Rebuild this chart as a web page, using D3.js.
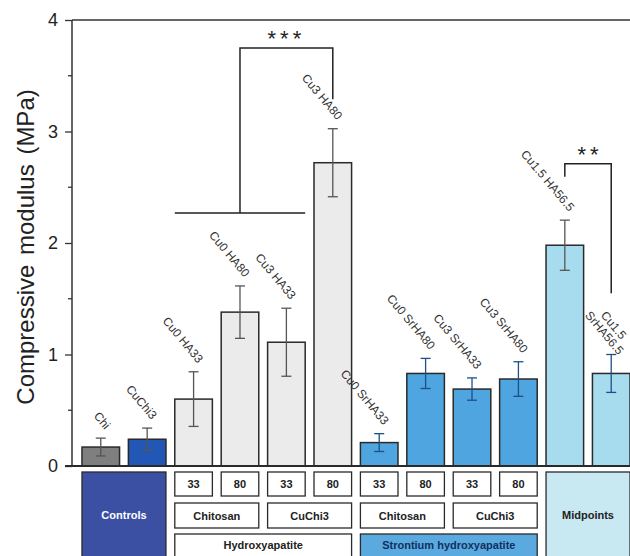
<!DOCTYPE html>
<html>
  <head>
    <meta charset="utf-8">
    <title>Compressive modulus</title>
    <script src="https://cdn.jsdelivr.net/npm/d3@7"></script>
    <style>
      body { margin: 0; background: #fff; }
      svg { display: block; font-family: Arial, "Liberation Sans", sans-serif; }
    </style>
  </head>
  <body>
    <svg id="chart" width="630" height="556"></svg>

    <script>
      // data
      samples = ["Chi", "CuChi3", "Cu0 HA33", "Cu0 HA80", "Cu3 HA33", "Cu3 HA80",
        "Cu0 SrHA33", "Cu0 SrHA80", "Cu3 SrHA33", "Cu3 SrHA80", "Cu1.5 HA56.5", "Cu1.5 SrHA56.5"];
      labels = [["Chi"], ["CuChi3"], ["Cu0 HA33"], ["Cu0 HA80"], ["Cu3 HA33"], ["Cu3 HA80"],
        ["Cu0 SrHA33"], ["Cu0 SrHA80"], ["Cu3 SrHA33"], ["Cu3 SrHA80"], ["Cu1.5 HA56.5"], ["Cu1.5", "SrHA56.5"]];
      modulus = [0.17, 0.24, 0.60, 1.38, 1.11, 2.72, 0.21, 0.83, 0.69, 0.78, 1.98, 0.83];
      errors = [0.08, 0.10, 0.245, 0.235, 0.305, 0.305, 0.08, 0.135, 0.10, 0.155, 0.225, 0.17];
      groups = ["ctrl", "ctrl", "ha", "ha", "ha", "ha", "sr", "sr", "sr", "sr", "mid", "mid"];
      fills = ["#7f7f7f", "#2257b5", "#ebebeb", "#ebebeb", "#ebebeb", "#ebebeb",
        "#4fa5df", "#4fa5df", "#4fa5df", "#4fa5df", "#a7dbee", "#a7dbee"];
      yTicks = [0, 1, 2, 3, 4];

      // bottom table
      ratioRow = [[2, "33"], [3, "80"], [4, "33"], [5, "80"], [6, "33"], [7, "80"], [8, "33"], [9, "80"]];
      baseRow = [[2, 3, "Chitosan"], [4, 5, "CuChi3"], [6, 7, "Chitosan"], [8, 9, "CuChi3"]];
      mineralRow = [[2, 5, "Hydroxyapatite", "#ffffff", "#222"], [6, 9, "Strontium hydroxyapatite", "#5aaadf", "#12305e"]];
      blocks = [[0, 1, "Controls", "#3c50a3", "#ffffff"], [10, 11, "Midpoints", "#c8e8f2", "#222"]];

      // significance brackets
      sig = [
        { from: 2, to: 4, split: 2.27, top: 3.75, end: 3.29, bar: 5, text: "***" },
        { start: 2.595, top: 2.71, end: 1.55, left: 10, right: 11, text: "**" }
      ];

      svg = d3.select("#chart");

      x = d3.scaleBand()
        .domain(samples)
        .range([72, 640])
        .paddingInner(0.19)
        .paddingOuter(0.215);

      y = d3.scaleLinear()
        .domain([0, 4])
        .range([466, 20]);

      cx = function(i) { return x(samples[i]) + x.bandwidth() / 2; };

      // frame
      svg.append("line")
        .attr("x1", 72).attr("x2", 630)
        .attr("y1", y(4)).attr("y2", y(4))
        .attr("stroke", "#333").attr("stroke-width", 1.5);

      // bars
      svg.selectAll(".bar")
        .data(samples)
      .enter().append("rect")
        .attr("x", function(d) { return x(d); })
        .attr("y", function(d, i) { return y(modulus[i]); })
        .attr("width", x.bandwidth())
        .attr("height", function(d, i) { return y(0) - y(modulus[i]); })
        .attr("fill", function(d, i) { return fills[i]; })
        .attr("stroke", "#2a2a2a")
        .attr("stroke-width", 1.5);

      // error bars
      errColour = function(i) {
        return groups[i] == "sr" || i == 11 ? "#1e4f86" : "#555";
      };
      err = svg.selectAll(".err")
        .data(samples)
      .enter().append("g")
        .attr("stroke", function(d, i) { return errColour(i); })
        .attr("stroke-width", 1.3);
      err.append("line")
        .attr("x1", function(d, i) { return cx(i); })
        .attr("x2", function(d, i) { return cx(i); })
        .attr("y1", function(d, i) { return y(modulus[i] + errors[i]); })
        .attr("y2", function(d, i) { return y(modulus[i] - errors[i]); });
      [1, -1].forEach(function(s) {
        err.append("line")
          .attr("x1", function(d, i) { return cx(i) - 5; })
          .attr("x2", function(d, i) { return cx(i) + 5; })
          .attr("y1", function(d, i) { return y(modulus[i] + s * errors[i]); })
          .attr("y2", function(d, i) { return y(modulus[i] + s * errors[i]); });
      });

      // sample labels (the two-line one is centred, the rest end above the error bar)
      lab = svg.selectAll(".lab")
        .data(labels)
      .enter().append("text")
        .attr("transform", function(d, i) {
          var top = y(modulus[i] + errors[i]);
          if (d.length > 1) return "translate(" + (cx(i) - 10) + "," + (top - 19) + ") rotate(50)";
          return "translate(" + (cx(i) + 4) + "," + (top - 8) + ") rotate(50)";
        })
        .attr("text-anchor", function(d) { return d.length > 1 ? "middle" : "end"; })
        .attr("font-size", 12)
        .attr("fill", "#333");
      lab.selectAll("tspan")
        .data(function(d) { return d; })
      .enter().append("tspan")
        .attr("x", 0)
        .attr("y", function(d, j, nodes) { return (j - nodes.length + 1) * 12; })
        .text(function(d) { return d; });

      // axes
      yAxis = svg.append("g")
        .attr("transform", "translate(72,0)")
        .call(d3.axisLeft(y).tickValues(yTicks).tickFormat(d3.format("d")).tickSize(7).tickPadding(7));
      yAxis.append("g")
        .selectAll("line")
        .data(d3.range(0.5, 4, 1))
      .enter().append("line")
        .attr("x1", -4).attr("x2", 0)
        .attr("y1", y).attr("y2", y)
        .attr("stroke", "#333");
      yAxis.selectAll("line").attr("stroke", "#333").attr("stroke-width", 1.3);
      yAxis.select(".domain").attr("stroke", "#333").attr("stroke-width", 1.5)
        .attr("d", "M0," + y(0) + "V" + y(4));
      yAxis.selectAll("text")
        .attr("font-size", 18)
        .attr("fill", "#222")
        .attr("font-family", "Arial, 'Liberation Sans', sans-serif");

      svg.append("line")
        .attr("x1", 65).attr("x2", 630)
        .attr("y1", y(0)).attr("y2", y(0))
        .attr("stroke", "#2a2a2a").attr("stroke-width", 2);

      svg.append("text")
        .attr("transform", "translate(34," + (y(2) + 4) + ") rotate(-90)")
        .attr("text-anchor", "middle")
        .attr("font-size", 24)
        .attr("word-spacing", 3)
        .attr("fill", "#222")
        .text("Compressive modulus (MPa)");

      // brackets
      b = sig[0];
      bx = (x(samples[b.from]) + x(samples[b.to]) + x.bandwidth()) / 2;
      svg.append("path")
        .attr("d", "M" + x(samples[b.from]) + "," + y(b.split) + "H" + (x(samples[b.to]) + x.bandwidth()) +
          "M" + bx + "," + y(b.split) + "V" + y(b.top) + "H" + cx(b.bar) + "V" + y(b.end))
        .attr("fill", "none").attr("stroke", "#222").attr("stroke-width", 1.5);
      svg.append("text")
        .attr("x", (bx + cx(b.bar)) / 2).attr("y", y(b.top) - 2)
        .attr("text-anchor", "middle").attr("font-size", 22).attr("letter-spacing", 4)
        .attr("fill", "#222").text(b.text);

      b = sig[1];
      svg.append("path")
        .attr("d", "M" + cx(b.left) + "," + y(b.start) + "V" + y(b.top) + "H" + cx(b.right) + "V" + y(b.end))
        .attr("fill", "none").attr("stroke", "#222").attr("stroke-width", 1.5);
      svg.append("text")
        .attr("x", (cx(b.left) + cx(b.right)) / 2 + 2).attr("y", y(b.top) - 2)
        .attr("text-anchor", "middle").attr("font-size", 22).attr("letter-spacing", 4)
        .attr("fill", "#222").text(b.text);

      // table
      table = svg.append("g").attr("font-weight", "bold").attr("font-size", 11);
      box = function(i0, i1, top, bottom, text, fill, colour, ty) {
        var x0 = x(samples[i0]), x1 = x(samples[i1]) + x.bandwidth();
        table.append("rect")
          .attr("x", x0).attr("y", top)
          .attr("width", x1 - x0).attr("height", bottom - top)
          .attr("fill", fill).attr("stroke", "#2a2a2a").attr("stroke-width", 1.3);
        table.append("text")
          .attr("x", (x0 + x1) / 2).attr("y", ty || (top + bottom) / 2 + 4)
          .attr("text-anchor", "middle").attr("fill", colour).text(text);
      };
      ratioRow.forEach(function(d) { box(d[0], d[0], 472, 496, d[1], "#fff", "#222"); });
      baseRow.forEach(function(d) { box(d[0], d[1], 503, 528, d[2], "#fff", "#222"); });
      mineralRow.forEach(function(d) { box(d[0], d[1], 534, 562, d[2], d[3], d[4], 549); });
      blocks.forEach(function(d) { box(d[0], d[1], 472, 560, d[2], d[3], d[4], 519); });
    </script>
  </body>
</html>
